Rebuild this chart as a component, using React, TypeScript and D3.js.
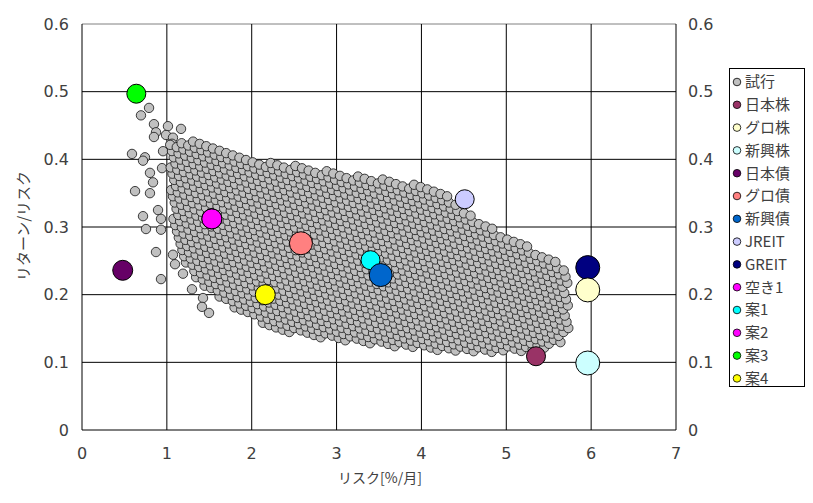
import * as d3 from "d3";

const W = 813;
const H = 503;
const M = { top: 24, right: 137, bottom: 73, left: 82 };

const xTicks = [0, 1, 2, 3, 4, 5, 6, 7];
const yTicks = [0, 0.1, 0.2, 0.3, 0.4, 0.5, 0.6];

// outline of the dense trial cloud (risk, return/risk)
const cloudOutline: [number, number][] = [
  [1.037, 0.425], [1.237, 0.429], [1.626, 0.416], [2.015, 0.4], [2.569, 0.39],
  [3.158, 0.378], [3.747, 0.368], [4.219, 0.356], [4.395, 0.337], [4.631, 0.312],
  [4.89, 0.295], [5.161, 0.277], [5.48, 0.258], [5.692, 0.238], [5.73, 0.219],
  [5.74, 0.148], [5.645, 0.128], [5.397, 0.116], [4.926, 0.114], [4.337, 0.117],
  [3.747, 0.122], [3.158, 0.13], [2.569, 0.14], [2.274, 0.151], [1.98, 0.166],
  [1.685, 0.189], [1.449, 0.212], [1.273, 0.235], [1.155, 0.265], [1.084, 0.301],
  [1.037, 0.355], [1.025, 0.402],
];

// isolated trial points outside the cloud
const trialStrays: [number, number][] = [
  [0.695, 0.465], [0.79, 0.476], [0.848, 0.452], [0.872, 0.44], [0.848, 0.433],
  [1.013, 0.449], [1.167, 0.445], [0.99, 0.436], [1.072, 0.432], [1.061, 0.423],
  [0.955, 0.412], [0.589, 0.408], [0.742, 0.403], [0.719, 0.398], [0.625, 0.353],
  [0.801, 0.38], [0.943, 0.387], [0.719, 0.316], [0.754, 0.297], [0.896, 0.325],
  [0.801, 0.35], [0.837, 0.366], [0.931, 0.312], [0.931, 0.296], [0.931, 0.223],
  [0.872, 0.263], [1.072, 0.259], [1.096, 0.245], [1.19, 0.231], [1.296, 0.208],
  [1.426, 0.195], [1.414, 0.182], [1.497, 0.173], [1.603, 0.208],
];

const names = ["試行", "日本株", "グロ株", "新興株", "日本債", "グロ債", "新興債", "JREIT", "GREIT", "空き1", "案1", "案2", "案3", "案4"];
const colors = ["#C0C0C0", "#993366", "#FFFFCC", "#CCFFFF", "#660066", "#FF8080", "#0066CC", "#CCCCFF", "#000080", "#FF00FF", "#00FFFF", "#FF00FF", "#00FF00", "#FFFF00"];
// one point per named series (index 0 = trials, drawn from the arrays above)
const risk = [NaN, 5.35, 5.96, 5.96, 0.48, 2.58, 3.52, 4.51, 5.96, 1.53, 3.4, 1.53, 0.64, 2.16];
const ret = [NaN, 0.109, 0.207, 0.099, 0.236, 0.276, 0.229, 0.341, 0.24, 0.312, 0.251, 0.312, 0.497, 0.2];
const sizes = [4.7, 9.5, 12, 12, 10, 11.5, 11.5, 9.5, 12, 10, 9.5, 10, 9.5, 10];

export default function App() {
  const x = d3.scaleLinear().domain([0, 7]).range([M.left, W - M.right]);
  const y = d3.scaleLinear().domain([0, 0.6]).range([H - M.bottom, M.top]);

  // fill the cloud outline with trial markers on a slanted lattice
  const cloud: [number, number][] = [];
  const u = [0.078, -0.0034];
  const v = [-0.021, 0.0092];
  for (let j = -10; j <= 50; j++) {
    for (let i = -20; i <= 80; i++) {
      const p: [number, number] = [1.0 + i * u[0] + j * v[0], 0.1 + i * u[1] + j * v[1]];
      if (d3.polygonContains(cloudOutline, p)) cloud.push(p);
    }
  }
  const trials = [...trialStrays, ...cloud];

  const font = "'Noto Sans CJK JP', 'Noto Sans', sans-serif";
  const numFont = "'DejaVu Sans', sans-serif";
  const tickColor = "#404040";
  const order = d3.range(names.length - 1, 0, -1);

  return (
    <svg width={W} height={H} style={{ position: "absolute", left: 0, top: 0, background: "#fff" }} fontFamily={font}>
      <rect width={W} height={H} fill="#fff" />
      {/* grid */}
      {yTicks.map((t) => (
        <line key={"gy" + t} x1={x(0)} x2={x(7)} y1={y(t)} y2={y(t)} stroke={t === 0.6 ? "#808080" : "#000"} strokeWidth={1} />
      ))}
      {xTicks.map((t) => (
        <line key={"gx" + t} x1={x(t)} x2={x(t)} y1={y(0)} y2={y(0.6)} stroke="#000" strokeWidth={1} />
      ))}
      {/* trials */}
      <g fill={colors[0]} stroke="#111" strokeWidth={0.8}>
        {trials.map((d, i) => (
          <circle key={i} cx={x(d[0])} cy={y(d[1])} r={sizes[0]} />
        ))}
      </g>
      {/* named series */}
      {order.map((i) => (
        <circle key={names[i]} cx={x(risk[i])} cy={y(ret[i])} r={sizes[i]} fill={colors[i]} stroke="#000" strokeWidth={1} />
      ))}
      {/* left axis labels */}
      {yTicks.map((t) => (
        <text key={"ly" + t} x={69} y={y(t)} dy="0.36em" textAnchor="end" fontSize={16} fontFamily={numFont} fill={tickColor}>
          {t === 0 ? "0" : t.toFixed(1)}
        </text>
      ))}
      {/* right axis labels */}
      {yTicks.map((t) => (
        <text key={"ry" + t} x={688} y={y(t)} dy="0.36em" textAnchor="start" fontSize={16} fontFamily={numFont} fill={tickColor}>
          {t === 0 ? "0" : t.toFixed(1)}
        </text>
      ))}
      {xTicks.map((t) => (
        <text key={"lx" + t} x={x(t)} y={459} textAnchor="middle" fontSize={16} fontFamily={numFont} fill={tickColor}>
          {t}
        </text>
      ))}
      <text x={380} y={483} textAnchor="middle" fontSize={14} fill={tickColor}>
        リスク[%/月]
      </text>
      <text transform="translate(29,226) rotate(-90)" textAnchor="middle" fontSize={15} fill={tickColor}>
        リターン/リスク
      </text>
      {/* legend */}
      <rect x={729.5} y={68.5} width={75} height={318} fill="#fff" stroke="#000" strokeWidth={1} />
      {names.map((n, i) => (
        <g key={"lg" + n} transform={`translate(0,${82 + i * 22.8})`}>
          <circle cx={737} cy={0} r={3.8} fill={colors[i]} stroke="#000" strokeWidth={0.8} />
          <text x={745} y={0} dy="0.36em" fontSize={15} fill={tickColor}>
            {n}
          </text>
        </g>
      ))}
    </svg>
  );
}
